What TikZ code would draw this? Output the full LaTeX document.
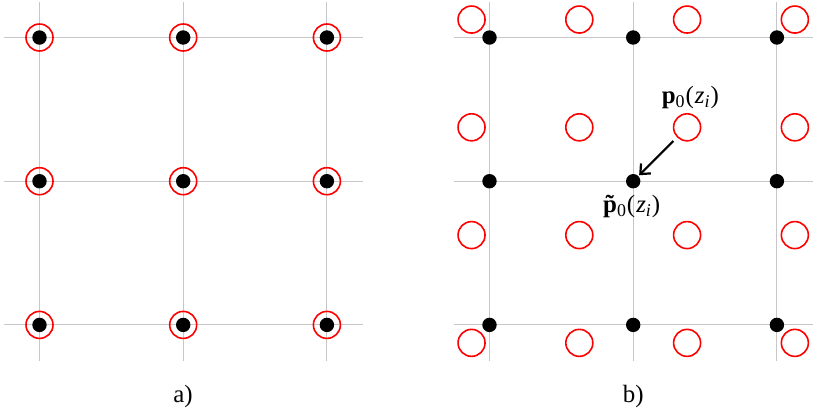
\documentclass[tikz,border=0pt]{standalone}
\usepackage{fontspec}
\setmainfont{Liberation Serif}
\usetikzlibrary{arrows.meta}
\newcommand{\subz}[1]{\raisebox{-4.5bp}{\fontsize{18}{20}\selectfont #1}}
\begin{document}
\begin{tikzpicture}[x=1bp,y=-1bp,
  gridline/.style={draw=black!22, line width=0.9bp},
  sample/.style={circle, fill=black, inner sep=0pt, minimum size=14.4bp},
  ring/.style={circle, draw=red, line width=1.6bp, inner sep=0pt, minimum size=27bp},
  lbl/.style={font=\fontsize{25}{30}\selectfont, inner sep=0pt, anchor=base},
  pointer/.style={line width=2.2bp, -{Straight Barb[length=8bp,width=14bp]}, shorten <=5bp, shorten >=1bp}]
\useasboundingbox (0,0) rectangle (818,413);
\def\s{143.7}
% ---------- panel a) ----------
\foreach \k in {0,1,2}{
  \draw[gridline] ({39.5+\k*\s},{37.5-0.25*\s}) -- ({39.5+\k*\s},{37.5+2.25*\s});
  \draw[gridline] ({39.5-0.25*\s},{37.5+\k*\s}) -- ({39.5+2.25*\s},{37.5+\k*\s});
}
\foreach \i in {0,1,2}{
  \foreach \j in {0,1,2}{
    \node[ring] (lc-\i-\j) at ({39.5+\i*\s},{37.5+\j*\s}) {};
    \node[sample] (ld-\i-\j) at ({39.5+\i*\s},{37.5+\j*\s}) {};
  }
}
\node[lbl] (la) at (183,402.5) {a)};
% ---------- panel b) ----------
\foreach \k in {0,1,2}{
  \draw[gridline] ({489.5+\k*\s},{37.5-0.25*\s}) -- ({489.5+\k*\s},{37.5+2.25*\s});
  \draw[gridline] ({489.5-0.25*\s},{37.5+\k*\s}) -- ({489.5+2.25*\s},{37.5+\k*\s});
}
\foreach \i in {0,1,2,3}{
  \foreach \j in {0,1,2,3}{
    \node[ring] (rc-\i-\j) at ({489.5+(-0.125+0.75*\i)*\s},{37.5+(-0.125+0.75*\j)*\s}) {};
  }
}
\foreach \i in {0,1,2}{
  \foreach \j in {0,1,2}{
    \node[sample] (rd-\i-\j) at ({489.5+\i*\s},{37.5+\j*\s}) {};
  }
}
\node[lbl] (lb) at (633.3,402.5) {b)};
\node[lbl] (pz) at (690.3,103) {\textbf{p}\subz{0}\kern1bp(\kern1bp\textit{z}\subz{\textit{i}}\kern1bp)};
\node[lbl] (ptz) at (631.7,212) {{\bfseries\~{p}}\subz{0}\kern1bp(\kern1bp\textit{z}\subz{\textit{i}}\kern1bp)};
\draw[pointer] (rc-2-1) -- (rd-1-1);
\end{tikzpicture}
\end{document}
